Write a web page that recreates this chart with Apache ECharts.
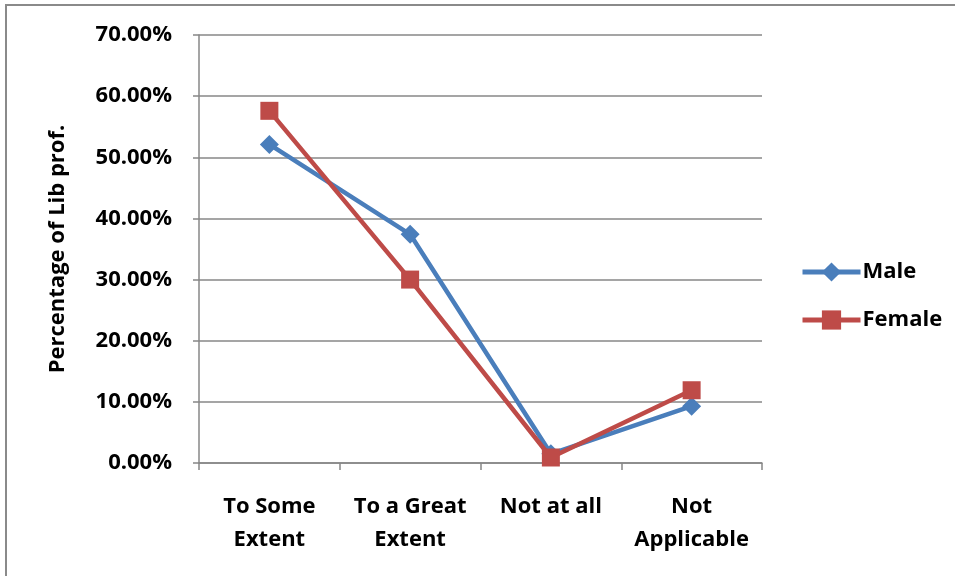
<!DOCTYPE html>
<html>
<head>
<meta charset="utf-8">
<script src="https://cdn.jsdelivr.net/npm/echarts@6/dist/echarts.min.js"></script>
<style>
  html, body { margin: 0; padding: 0; background: #fff; }
  #chart { width: 955px; height: 576px; }
</style>
</head>
<body>
<div id="chart"></div>
<script>
// Share of library professionals per response, by gender
const categories = ['To Some\nExtent', 'To a Great\nExtent', 'Not at all', 'Not\nApplicable'];
const maleValues = [0.521, 0.374, 0.015, 0.093];
const femaleValues = [0.576, 0.300, 0.009, 0.119];
const yTicks = { min: 0, max: 0.7, interval: 0.1 };

const FONT = '"Open Sans", "Noto Sans", sans-serif';
const GRID_GREY = '#878787';
const BLUE = '#4A7EBB';
const RED = '#BE4B48';

const chart = echarts.init(document.getElementById('chart'), null, { renderer: 'canvas' });

chart.setOption({
  backgroundColor: '#ffffff',
  animation: false,
  graphic: [{
    type: 'rect',
    shape: { x: 6, y: 5, width: 1000, height: 700 },
    style: { fill: 'none', stroke: '#8a8a8a', lineWidth: 2 },
    silent: true
  }],
  grid: { left: 199, right: 193, top: 35, bottom: 113 },
  legend: {
    orient: 'vertical',
    left: 795,
    top: 256,
    itemGap: 26,
    itemWidth: 58,
    itemHeight: 24,
    lineStyle: { width: 5 },
    textStyle: { fontFamily: FONT, fontWeight: 'bold', fontSize: 22, color: '#000', padding: [0, 0, 0, -3] },
    data: ['Male', 'Female']
  },
  xAxis: {
    type: 'category',
    data: categories,
    boundaryGap: true,
    axisLine: { lineStyle: { color: GRID_GREY, width: 1.5 } },
    axisTick: { show: true, length: 7, lineStyle: { color: GRID_GREY, width: 1.5 } },
    axisLabel: {
      margin: 27,
      interval: 0,
      fontFamily: FONT,
      fontWeight: 'bold',
      fontSize: 22,
      lineHeight: 33,
      color: '#000'
    }
  },
  yAxis: {
    type: 'value',
    min: yTicks.min,
    max: yTicks.max,
    interval: yTicks.interval,
    name: 'Percentage of Lib prof.',
    nameLocation: 'middle',
    nameGap: 130,
    nameRotate: 90,
    nameTextStyle: { fontFamily: FONT, fontWeight: 'bold', fontSize: 22, color: '#000' },
    axisLine: { show: true, lineStyle: { color: GRID_GREY, width: 1.5 } },
    axisTick: { show: true, length: 6, lineStyle: { color: GRID_GREY, width: 1.5 } },
    splitLine: { show: true, lineStyle: { color: GRID_GREY, width: 1.5 } },
    axisLabel: {
      margin: 27,
      fontFamily: FONT,
      fontWeight: 'bold',
      fontSize: 22,
      color: '#000',
      formatter: v => (v * 100).toFixed(2) + '%'
    }
  },
  series: [
    {
      name: 'Male',
      type: 'line',
      data: maleValues,
      symbol: 'diamond',
      symbolSize: 19,
      lineStyle: { color: BLUE, width: 4.5 },
      itemStyle: { color: BLUE },
      z: 2
    },
    {
      name: 'Female',
      type: 'line',
      data: femaleValues,
      symbol: 'rect',
      symbolSize: 18,
      lineStyle: { color: RED, width: 4.5 },
      itemStyle: { color: RED },
      z: 3
    }
  ]
});
</script>
</body>
</html>
